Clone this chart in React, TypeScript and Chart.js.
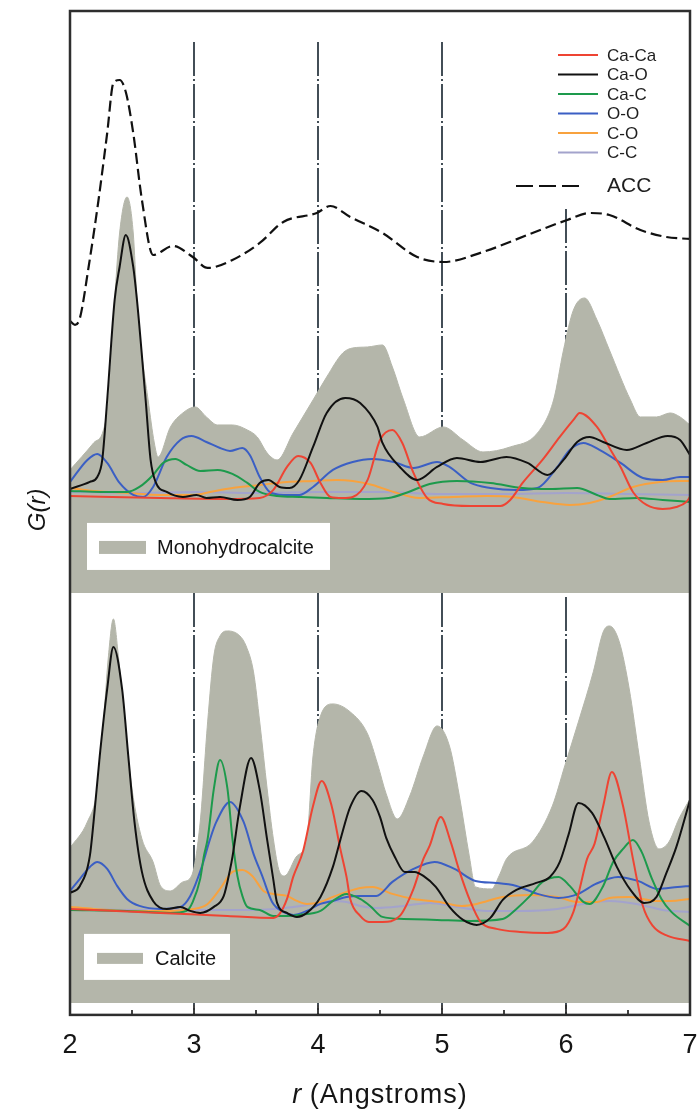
import React, { useEffect, useRef } from "react";
import { Chart, registerables } from "chart.js";

Chart.register(...registerables);

type P = [number, number];

// ---------- axis / labels ----------
const rMin = 2;
const rMax = 7;
const rTickStep = 1;
const pairNames = ["Ca-Ca", "Ca-O", "Ca-C", "O-O", "C-O", "C-C"];
const pairColors = ["#ee4433", "#111111", "#1d9a4c", "#3b5fc4", "#f8a23e", "#a3a3cc"];
const fillColor = "#b4b6aa";
const guideColor = "#2f3b45";

// G(r) ranges of the two stacked panels (arbitrary units)
const topPanelMax = 58.2;
const botPanelMax = 42.2;
const calciteBase = 1.2;

// dash-dot guide lines
const guideR = [3, 4, 5, 6];
const guideTopStart = [55.1, 55.1, 55.1, 38.4];
const guideBotStart = [42.2, 42.2, 42.2, 41.8];

// ---------- top panel (ACC + Monohydrocalcite) ----------
const topACC: P[] = [
  [2.0, 27.2], [2.04, 26.8], [2.08, 27.5], [2.15, 32.6], [2.23, 39.3], [2.3, 46.0], [2.35, 51.0],
  [2.4, 51.3], [2.45, 50.1], [2.51, 46.0], [2.58, 39.3], [2.67, 33.8], [2.83, 34.7], [2.99, 33.6],
  [3.11, 32.5], [3.31, 33.3], [3.53, 35.0], [3.72, 37.1], [3.99, 38.0], [4.1, 38.7], [4.26, 37.6],
  [4.52, 36.0], [4.8, 33.6], [5.01, 33.1], [5.33, 34.1], [5.73, 36.0], [6.01, 37.3], [6.19, 38.0],
  [6.35, 37.8], [6.6, 36.3], [6.81, 35.6], [7.0, 35.4],
];

const topMono: P[] = [
  [2.0, 12.3], [2.19, 15.0], [2.27, 16.3], [2.31, 19.3], [2.36, 29.3], [2.4, 36.0], [2.46, 39.6],
  [2.51, 36.0], [2.54, 29.3], [2.56, 26.0], [2.63, 19.3], [2.68, 15.0], [2.71, 13.6], [2.81, 16.6],
  [2.91, 18.0], [3.01, 18.6], [3.1, 17.6], [3.19, 16.8], [3.31, 16.8], [3.43, 16.3], [3.51, 15.6],
  [3.59, 14.0], [3.67, 13.3], [3.8, 16.0], [3.96, 19.3], [4.07, 21.6], [4.2, 24.0], [4.28, 24.5],
  [4.4, 24.6], [4.52, 24.8], [4.6, 22.6], [4.69, 19.3], [4.82, 15.6], [5.01, 16.6], [5.17, 15.3],
  [5.33, 14.1], [5.55, 14.6], [5.77, 16.0], [5.9, 19.3], [5.98, 24.3], [6.06, 28.3], [6.15, 29.5],
  [6.25, 27.3], [6.35, 24.3], [6.52, 19.3], [6.6, 17.6], [6.73, 17.6], [6.84, 18.0], [6.92, 17.6],
  [7.0, 16.8],
];

const topCaCa: P[] = [
  [2.0, 9.7], [2.73, 9.5], [3.27, 9.4], [3.53, 9.5], [3.64, 10.3], [3.75, 12.6], [3.84, 13.7],
  [3.94, 13.0], [4.02, 11.0], [4.1, 9.6], [4.2, 9.5], [4.28, 9.6], [4.4, 11.3], [4.5, 15.3],
  [4.6, 16.3], [4.68, 15.0], [4.77, 12.0], [4.88, 9.5], [5.01, 8.9], [5.23, 8.7], [5.47, 8.7],
  [5.55, 9.3], [5.65, 11.0], [5.81, 13.3], [5.95, 15.6], [6.06, 17.3], [6.11, 18.0], [6.25, 16.6],
  [6.36, 14.3], [6.44, 12.6], [6.54, 10.1], [6.65, 8.8], [6.78, 8.4], [6.89, 8.6], [6.97, 9.1],
  [7.0, 9.6],
];

const topCaO: P[] = [
  [2.0, 10.4], [2.16, 11.1], [2.22, 11.6], [2.26, 13.3], [2.3, 19.3], [2.36, 29.3], [2.4, 32.6],
  [2.45, 35.8], [2.51, 32.6], [2.54, 29.3], [2.61, 19.3], [2.65, 13.3], [2.69, 11.1], [2.78, 10.1],
  [2.91, 9.6], [3.02, 9.8], [3.1, 9.5], [3.21, 9.6], [3.35, 9.3], [3.45, 9.6], [3.53, 11.0],
  [3.6, 11.3], [3.69, 10.6], [3.77, 10.5], [3.85, 11.3], [3.96, 14.6], [4.07, 18.0], [4.22, 19.5],
  [4.34, 19.0], [4.48, 16.6], [4.52, 15.0], [4.66, 12.6], [4.8, 11.3], [4.96, 12.6], [5.12, 13.5],
  [5.31, 13.1], [5.52, 13.6], [5.69, 13.0], [5.85, 11.8], [5.98, 13.3], [6.09, 15.1], [6.19, 15.6],
  [6.3, 15.1], [6.49, 14.3], [6.65, 15.0], [6.82, 15.7], [6.92, 15.3], [7.0, 13.8],
];

const topCaC: P[] = [
  [2.0, 10.2], [2.25, 10.1], [2.46, 10.1], [2.56, 10.6], [2.67, 11.8], [2.75, 13.0], [2.85, 13.4],
  [2.94, 12.8], [3.05, 12.2], [3.19, 12.3], [3.31, 11.9], [3.43, 11.0], [3.53, 10.1], [3.67, 9.7],
  [3.85, 9.6], [4.07, 9.5], [4.34, 9.4], [4.57, 9.5], [4.73, 10.1], [4.9, 10.9], [5.12, 11.2],
  [5.39, 11.0], [5.65, 10.5], [5.87, 10.4], [6.09, 10.5], [6.25, 9.8], [6.35, 9.4], [6.57, 9.5],
  [6.78, 9.3], [7.0, 9.1],
];

const topOO: P[] = [
  [2.0, 11.1], [2.14, 13.3], [2.22, 13.9], [2.3, 13.0], [2.4, 11.0], [2.51, 9.8], [2.59, 9.6],
  [2.67, 10.6], [2.78, 13.6], [2.89, 15.3], [2.98, 15.7], [3.1, 15.1], [3.21, 14.5], [3.29, 14.2],
  [3.39, 14.5], [3.45, 13.8], [3.53, 11.6], [3.61, 10.1], [3.72, 9.8], [3.85, 9.8], [3.96, 10.6],
  [4.12, 12.3], [4.28, 13.1], [4.44, 13.4], [4.61, 13.1], [4.77, 12.5], [4.96, 13.1], [5.06, 12.6],
  [5.23, 11.0], [5.39, 10.5], [5.6, 10.3], [5.77, 10.5], [5.93, 12.6], [6.03, 14.3], [6.14, 15.0],
  [6.27, 14.3], [6.44, 13.0], [6.62, 11.5], [6.78, 11.3], [6.92, 11.6], [7.0, 11.6],
];

const topCO: P[] = [
  [2.0, 10.5], [2.19, 10.2], [2.46, 10.0], [2.73, 9.8], [3.0, 9.8], [3.13, 10.1], [3.31, 10.5],
  [3.53, 10.8], [3.75, 11.1], [3.96, 11.2], [4.15, 11.3], [4.28, 11.2], [4.44, 10.8], [4.61, 10.1],
  [4.82, 9.5], [5.09, 9.6], [5.36, 9.7], [5.57, 9.6], [5.81, 9.1], [6.03, 8.8], [6.19, 9.0],
  [6.35, 9.6], [6.54, 10.6], [6.76, 11.1], [7.0, 11.2],
];

const topCC: P[] = [
  [2.0, 10.1], [2.5, 10.0], [3.0, 10.1], [3.5, 10.0], [4.0, 10.1], [4.5, 10.1], [5.0, 9.9],
  [5.5, 9.9], [6.0, 10.0], [6.5, 9.9], [7.0, 9.8],
];

// ---------- bottom panel (Calcite) ----------
const botCalcite: P[] = [
  [2.0, 16.7], [2.14, 19.3], [2.22, 22.6], [2.27, 29.3], [2.31, 35.9], [2.35, 39.6], [2.39, 35.9],
  [2.44, 29.3], [2.5, 22.6], [2.58, 17.6], [2.67, 15.3], [2.73, 12.9], [2.81, 12.4], [2.91, 13.3],
  [2.98, 13.9], [3.05, 19.3], [3.11, 29.3], [3.16, 35.9], [3.21, 37.9], [3.27, 38.4], [3.37, 37.9],
  [3.42, 36.9], [3.48, 34.3], [3.53, 29.3], [3.59, 22.6], [3.64, 17.6], [3.69, 14.3], [3.73, 13.9],
  [3.83, 15.9], [3.91, 17.6], [3.96, 25.9], [4.02, 29.9], [4.12, 31.1], [4.26, 30.3], [4.4, 28.1],
  [4.48, 25.1], [4.55, 22.1], [4.64, 19.6], [4.74, 21.9], [4.85, 25.9], [4.96, 28.9], [5.06, 26.9],
  [5.14, 21.9], [5.22, 15.9], [5.27, 12.8], [5.4, 12.6], [5.46, 13.9], [5.52, 15.6], [5.73, 17.3],
  [5.89, 20.9], [5.99, 24.9], [6.1, 29.3], [6.22, 34.3], [6.3, 38.3], [6.35, 38.9], [6.43, 37.3],
  [6.51, 32.6], [6.59, 25.9], [6.67, 19.3], [6.75, 16.6], [6.83, 17.3], [6.91, 19.6], [7.0, 21.6],
];

const botCaCa: P[] = [
  [2.0, 10.6], [2.73, 10.2], [3.27, 9.9], [3.64, 9.7], [3.69, 10.1], [3.75, 11.6], [3.8, 13.8],
  [3.88, 16.4], [3.96, 20.9], [4.03, 23.4], [4.11, 20.9], [4.18, 16.6], [4.23, 13.8], [4.26, 11.6],
  [4.34, 9.9], [4.41, 9.3], [4.52, 9.3], [4.66, 9.9], [4.77, 12.6], [4.85, 15.6], [4.9, 16.9],
  [4.99, 19.8], [5.07, 17.3], [5.14, 14.4], [5.23, 11.3], [5.31, 9.3], [5.44, 8.6], [5.63, 8.3],
  [5.85, 8.2], [5.98, 8.6], [6.06, 10.3], [6.11, 12.6], [6.17, 15.6], [6.23, 17.1], [6.3, 20.9],
  [6.37, 24.3], [6.46, 20.9], [6.54, 15.6], [6.62, 10.9], [6.7, 8.9], [6.82, 7.9], [7.0, 7.4],
];

const botCaO: P[] = [
  [2.0, 12.2], [2.08, 12.9], [2.16, 15.9], [2.19, 19.3], [2.24, 25.9], [2.3, 32.6], [2.35, 36.8],
  [2.42, 32.6], [2.47, 25.9], [2.52, 19.3], [2.58, 14.3], [2.67, 11.4], [2.78, 10.6], [2.89, 10.8],
  [2.97, 10.4], [3.05, 10.2], [3.16, 10.8], [3.24, 11.9], [3.29, 14.5], [3.31, 15.8], [3.37, 20.8],
  [3.46, 25.7], [3.53, 22.5], [3.59, 17.5], [3.64, 13.5], [3.67, 11.2], [3.75, 10.2], [3.83, 9.8],
  [3.91, 10.2], [4.02, 11.8], [4.12, 14.8], [4.18, 17.5], [4.26, 20.8], [4.35, 22.4], [4.44, 21.5],
  [4.5, 19.8], [4.55, 17.7], [4.62, 15.8], [4.7, 14.3], [4.78, 14.3], [4.85, 13.9], [4.95, 12.8],
  [5.06, 10.8], [5.17, 9.5], [5.28, 9.0], [5.39, 9.7], [5.49, 11.5], [5.6, 12.5], [5.76, 13.2],
  [5.87, 13.8], [5.95, 15.3], [6.02, 18.0], [6.1, 21.2], [6.21, 20.2], [6.31, 17.7], [6.41, 14.8],
  [6.52, 12.5], [6.63, 11.2], [6.73, 11.8], [6.81, 14.2], [6.89, 16.8], [7.0, 21.5],
];

const botCaC: P[] = [
  [2.0, 10.5], [2.46, 10.4], [2.81, 10.2], [2.94, 10.4], [2.99, 11.3], [3.05, 13.6], [3.08, 15.9],
  [3.11, 17.6], [3.16, 22.6], [3.21, 25.5], [3.27, 22.6], [3.31, 17.6], [3.35, 13.9], [3.39, 11.9],
  [3.43, 10.8], [3.53, 10.5], [3.64, 9.9], [3.75, 9.9], [3.85, 10.0], [4.02, 10.4], [4.12, 11.4],
  [4.23, 12.1], [4.34, 11.6], [4.42, 10.9], [4.52, 9.8], [4.69, 9.6], [4.96, 9.5], [5.23, 9.4],
  [5.49, 9.6], [5.6, 10.6], [5.71, 11.9], [5.81, 13.3], [5.94, 13.8], [6.03, 12.9], [6.14, 11.3],
  [6.19, 11.1], [6.3, 12.9], [6.38, 15.3], [6.46, 16.6], [6.54, 17.5], [6.61, 16.3], [6.69, 13.7],
  [6.77, 11.6], [6.85, 10.3], [7.0, 8.9],
];

const botOO: P[] = [
  [2.0, 12.4], [2.08, 13.6], [2.16, 14.8], [2.22, 15.3], [2.3, 14.6], [2.38, 12.9], [2.46, 11.6],
  [2.56, 10.9], [2.73, 10.6], [2.89, 10.8], [2.97, 11.9], [3.06, 14.7], [3.13, 17.6], [3.18, 19.3],
  [3.29, 21.3], [3.4, 19.3], [3.48, 16.1], [3.55, 13.9], [3.63, 11.3], [3.72, 10.3], [3.8, 10.0],
  [3.91, 10.4], [4.02, 11.1], [4.12, 11.4], [4.23, 11.8], [4.34, 11.9], [4.47, 11.9], [4.6, 13.3],
  [4.77, 14.6], [4.94, 15.3], [5.1, 14.6], [5.27, 13.4], [5.44, 13.2], [5.6, 12.9], [5.77, 12.1],
  [5.94, 11.7], [6.1, 12.1], [6.24, 13.1], [6.42, 13.8], [6.58, 13.4], [6.74, 12.6], [6.9, 12.8],
  [7.0, 12.9],
];

const botCO: P[] = [
  [2.0, 10.8], [2.19, 10.6], [2.46, 10.4], [2.73, 10.4], [3.0, 10.6], [3.11, 11.1], [3.21, 12.6],
  [3.31, 14.3], [3.39, 14.5], [3.47, 13.9], [3.56, 12.4], [3.64, 12.1], [3.75, 11.9], [3.83, 11.4],
  [3.91, 11.1], [4.02, 11.3], [4.12, 11.8], [4.23, 12.3], [4.34, 12.7], [4.44, 12.8], [4.6, 12.1],
  [4.77, 11.6], [4.98, 11.3], [5.16, 10.9], [5.28, 11.1], [5.49, 11.8], [5.71, 12.0], [5.93, 11.8],
  [6.09, 11.3], [6.25, 11.3], [6.35, 11.7], [6.51, 11.8], [6.73, 11.4], [6.84, 11.4], [7.0, 11.6],
];

const botCC: P[] = [
  [2.0, 10.6], [2.5, 10.5], [3.0, 10.5], [3.5, 10.5], [3.8, 10.8], [3.96, 11.1], [4.07, 11.4],
  [4.23, 11.3], [4.34, 10.9], [4.47, 10.7], [4.69, 10.9], [4.9, 11.2], [5.12, 10.8], [5.36, 10.4],
  [5.63, 10.4], [5.93, 10.6], [6.14, 11.1], [6.35, 11.4], [6.57, 11.1], [6.78, 10.5], [7.0, 10.3],
];

const topPairs: P[][] = [topCaCa, topCaO, topCaC, topOO, topCO, topCC];
const botPairs: P[][] = [botCaCa, botCaO, botCaC, botOO, botCO, botCC];
const pairOrder = [3, 2, 4, 5, 6, 7];

const FONT = '"Liberation Sans", Arial, Helvetica, sans-serif';
const toXY = (arr: P[]) => arr.map(([x, y]) => ({ x, y }));

const decor = {
  id: "decor",
  afterDatasetsDraw(chart: any) {
    const { ctx, chartArea: a, scales } = chart;
    const xs = scales.x;
    const yt = scales.yTop;
    const yb = scales.yBot;
    const f = (size: number, style = "") => `${style} ${size}px ${FONT}`;
    const line = (x1: number, y1: number, x2: number, y2: number) => {
      ctx.beginPath();
      ctx.moveTo(x1, y1);
      ctx.lineTo(x2, y2);
      ctx.stroke();
    };
    ctx.save();

    // panel legend boxes
    const box = (x: number, y: number, w: number, h: number, sx: number, sy: number, sw: number, sh: number, label: string, tx: number) => {
      ctx.fillStyle = "#ffffff";
      ctx.fillRect(x, y, w, h);
      ctx.fillStyle = fillColor;
      ctx.fillRect(sx, sy, sw, sh);
      ctx.fillStyle = "#151515";
      ctx.font = f(20);
      ctx.textAlign = "left";
      ctx.textBaseline = "middle";
      ctx.fillText(label, tx, sy + sh / 2 + 1);
    };
    box(a.left + 17, yt.bottom - 70, 243, 47, a.left + 29, yt.bottom - 52, 47, 13, "Monohydrocalcite", a.left + 87);
    box(a.left + 14, yb.bottom - 81, 146, 46, a.left + 27, yb.bottom - 62, 46, 11, "Calcite", a.left + 85);

    // pair legend (top right)
    ctx.textAlign = "left";
    ctx.textBaseline = "middle";
    pairNames.forEach((n, i) => {
      const y = a.top + 44 + i * 19.5;
      ctx.setLineDash([]);
      ctx.lineWidth = 2;
      ctx.strokeStyle = pairColors[i];
      line(a.right - 132, y, a.right - 92, y);
      ctx.fillStyle = "#1e1e1e";
      ctx.font = f(17);
      ctx.fillText(n, a.right - 83, y + 1);
    });
    ctx.setLineDash([17, 6]);
    ctx.lineWidth = 2.2;
    ctx.strokeStyle = "#111111";
    line(a.right - 174, a.top + 175, a.right - 108, a.top + 175);
    ctx.setLineDash([]);
    ctx.fillStyle = "#1e1e1e";
    ctx.font = f(21);
    ctx.fillText("ACC", a.right - 83, a.top + 175);

    // frame
    ctx.strokeStyle = "#2e2e2e";
    ctx.lineWidth = 2.5;
    ctx.strokeRect(a.left, a.top, a.right - a.left, a.bottom - a.top);

    // inward ticks
    ctx.lineWidth = 1.8;
    for (let v = rMin; v <= rMax + 1e-9; v += rTickStep / 2) {
      const px = xs.getPixelForValue(v);
      const major = Math.abs(v - Math.round(v)) < 1e-6;
      line(px, a.bottom, px, a.bottom - (major ? 10 : 5));
    }

    // x title
    ctx.fillStyle = "#151515";
    ctx.textBaseline = "middle";
    ctx.font = f(27, "italic");
    const w1 = ctx.measureText("r").width;
    ctx.font = f(27);
    const rest = " (Angstroms)";
    (ctx as any).letterSpacing = "1px";
    const w2 = ctx.measureText(rest).width;
    const cx = (a.left + a.right) / 2;
    const sx = cx - (w1 + w2) / 2;
    (ctx as any).letterSpacing = "0px";
    ctx.font = f(27, "italic");
    ctx.textAlign = "left";
    ctx.fillText("r", sx, a.bottom + 81);
    ctx.font = f(27);
    (ctx as any).letterSpacing = "1px";
    ctx.fillText(rest, sx + w1, a.bottom + 81);
    (ctx as any).letterSpacing = "0px";

    // y title
    ctx.translate(38, (a.top + a.bottom) / 2 - 3);
    ctx.rotate(-Math.PI / 2);
    ctx.textAlign = "center";
    ctx.font = f(24, "italic");
    ctx.fillText("G(r)", 0, 0);
    ctx.restore();
  },
};

export default function App() {
  const ref = useRef<HTMLCanvasElement | null>(null);

  useEffect(() => {
    if (!ref.current) return;
    const datasets: any[] = [];
    guideR.forEach((r, i) => {
      const common = {
        borderColor: guideColor,
        borderWidth: 1.8,
        borderDash: [34, 3, 2, 3],
        pointRadius: 0,
        fill: false,
        order: 20,
        label: "guide",
      };
      datasets.push({ ...common, yAxisID: "yTop", data: [{ x: r, y: guideTopStart[i] }, { x: r, y: 0 }] });
      datasets.push({ ...common, yAxisID: "yBot", data: [{ x: r, y: guideBotStart[i] }, { x: r, y: 0 }] });
    });
    datasets.push({
      label: "Monohydrocalcite",
      data: toXY(topMono),
      yAxisID: "yTop",
      fill: "start",
      backgroundColor: fillColor,
      borderColor: fillColor,
      borderWidth: 1,
      pointRadius: 0,
      cubicInterpolationMode: "monotone",
      order: 10,
    });
    datasets.push({
      label: "Calcite",
      data: toXY(botCalcite),
      yAxisID: "yBot",
      fill: { value: calciteBase },
      backgroundColor: fillColor,
      borderColor: fillColor,
      borderWidth: 1,
      pointRadius: 0,
      cubicInterpolationMode: "monotone",
      order: 10,
    });
    pairNames.forEach((n, i) => {
      const common = {
        label: n,
        borderColor: pairColors[i],
        borderWidth: 2,
        pointRadius: 0,
        fill: false,
        cubicInterpolationMode: "monotone",
        order: pairOrder[i],
      };
      datasets.push({ ...common, yAxisID: "yTop", data: toXY(topPairs[i]) });
      datasets.push({ ...common, yAxisID: "yBot", data: toXY(botPairs[i]) });
    });
    datasets.push({
      label: "ACC",
      data: toXY(topACC),
      yAxisID: "yTop",
      borderColor: "#111111",
      borderWidth: 2.2,
      borderDash: [11, 5],
      pointRadius: 0,
      fill: false,
      cubicInterpolationMode: "monotone",
      order: 1,
    });

    const chart = new Chart(ref.current, {
      type: "line",
      data: { datasets },
      options: {
        animation: false,
        responsive: false,
        maintainAspectRatio: false,
        devicePixelRatio: 1,
        layout: { padding: { left: 70, right: 9, top: 11, bottom: 35 } },
        plugins: { legend: { display: false }, tooltip: { enabled: false } },
        scales: {
          x: {
            type: "linear",
            min: rMin,
            max: rMax,
            grid: { display: false, drawTicks: false },
            border: { display: false },
            ticks: {
              stepSize: rTickStep,
              padding: 0,
              color: "#151515",
              font: { family: FONT, size: 27, lineHeight: 2.3 },
              callback: (v: any) => String(v),
            },
          },
          yBot: {
            type: "linear",
            display: false,
            position: "left",
            stack: "panels",
            stackWeight: botPanelMax,
            weight: 1,
            min: 0,
            max: botPanelMax,
          },
          yTop: {
            type: "linear",
            display: false,
            position: "left",
            stack: "panels",
            stackWeight: topPanelMax,
            weight: 2,
            min: 0,
            max: topPanelMax,
          },
        },
      } as any,
      plugins: [decor],
    });
    return () => chart.destroy();
  }, []);

  return (
    <div style={{ position: "fixed", left: 0, top: 0, width: 699, height: 1112, background: "#ffffff" }}>
      <canvas ref={ref} width={699} height={1112} style={{ display: "block", width: 699, height: 1112 }} />
    </div>
  );
}
